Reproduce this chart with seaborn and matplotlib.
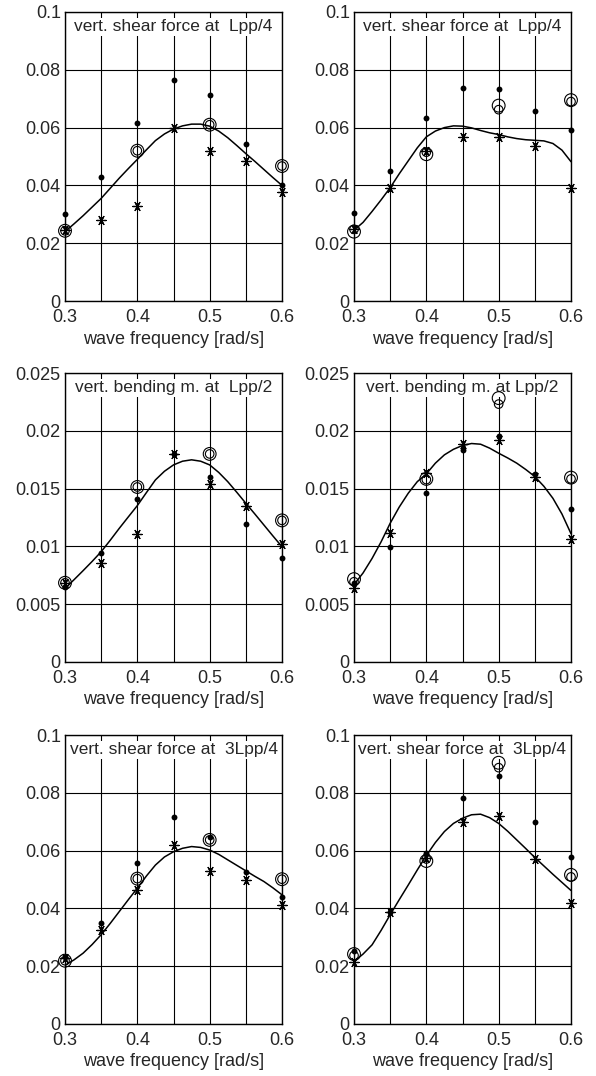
import matplotlib
matplotlib.use("Agg")
import matplotlib.pyplot as plt
import numpy as np
import seaborn as sns

# measured frequencies
freq = [0.30, 0.35, 0.40, 0.45, 0.50, 0.55, 0.60]
freq_c = [0.30, 0.40, 0.50, 0.60]
freq_line = [0.3000, 0.3125, 0.3250, 0.3375, 0.3500, 0.3625, 0.3750, 0.3875,
             0.4000, 0.4125, 0.4250, 0.4375, 0.4500, 0.4625, 0.4750, 0.4875,
             0.5000, 0.5125, 0.5250, 0.5375, 0.5500, 0.5625, 0.5750, 0.5875,
             0.6000]

titles = [
    "vert. shear force at  Lpp/4", "vert. shear force at  Lpp/4",
    "vert. bending m. at  Lpp/2", "vert. bending m. at Lpp/2",
    "vert. shear force at  3Lpp/4", "vert. shear force at  3Lpp/4",
]

# panel 1 (shear Lpp/4, left)
dots_1 = [0.0300, 0.0429, 0.0616, 0.0766, 0.0714, 0.0544, 0.0400]
stars_1 = [0.0245, 0.0280, 0.0330, 0.0597, 0.0520, 0.0485, 0.0377]
big_1 = [0.0243, 0.0520, 0.0610, 0.0467]
small_1 = [0.0243, 0.0520, 0.0610, 0.0467]
curve_1 = [0.0240, 0.0267, 0.0295, 0.0325, 0.0355, 0.0390, 0.0425, 0.0458,
           0.0490, 0.0523, 0.0555, 0.0578, 0.0595, 0.0606, 0.0612, 0.0612,
           0.0605, 0.0588, 0.0565, 0.0538, 0.0510, 0.0483, 0.0455, 0.0427,
           0.0400]

# panel 2 (shear Lpp/4, right)
dots_2 = [0.0303, 0.0450, 0.0634, 0.0736, 0.0735, 0.0657, 0.0591]
stars_2 = [0.0248, 0.0390, 0.0520, 0.0566, 0.0566, 0.0538, 0.0390]
big_2 = [0.0240, 0.0508, 0.0676, 0.0695]
small_2 = [0.0248, 0.0515, 0.0662, 0.0690]
curve_2 = [0.0245, 0.0272, 0.0310, 0.0350, 0.0392, 0.0440, 0.0485, 0.0530,
           0.0568, 0.0588, 0.0600, 0.0606, 0.0605, 0.0599, 0.0590, 0.0582,
           0.0576, 0.0568, 0.0562, 0.0558, 0.0556, 0.0554, 0.0545, 0.0522,
           0.0482]

# panel 3 (bending Lpp/2, left)
dots_3 = [0.00650, 0.00945, 0.01410, 0.01800, 0.01600, 0.01197, 0.00900]
stars_3 = [0.00685, 0.00853, 0.01104, 0.01800, 0.01538, 0.01353, 0.01020]
big_3 = [0.00685, 0.01514, 0.01800, 0.01225]
small_3 = [0.00685, 0.01514, 0.01800, 0.01225]
curve_3 = [0.00636, 0.00712, 0.00790, 0.00870, 0.00954, 0.01053, 0.01156,
           0.01255, 0.01353, 0.01465, 0.01575, 0.01650, 0.01705, 0.01737,
           0.01749, 0.01737, 0.01705, 0.01640, 0.01560, 0.01468, 0.01373,
           0.01280, 0.01185, 0.01090, 0.00997]

# panel 4 (bending Lpp/2, right)
dots_4 = [0.00680, 0.00997, 0.01460, 0.01835, 0.01957, 0.01627, 0.01321]
stars_4 = [0.00642, 0.01113, 0.01639, 0.01887, 0.01922, 0.01604, 0.01064]
big_4 = [0.00717, 0.01584, 0.02283, 0.01595]
small_4 = [0.00694, 0.01578, 0.02231, 0.01584]
curve_4 = [0.00670, 0.00770, 0.00896, 0.01040, 0.01200, 0.01340, 0.01460,
           0.01560, 0.01627, 0.01720, 0.01792, 0.01840, 0.01873, 0.01890,
           0.01884, 0.01850, 0.01806, 0.01765, 0.01720, 0.01665, 0.01604,
           0.01520, 0.01416, 0.01280, 0.01110]

# panel 5 (shear 3Lpp/4, left)
dots_5 = [0.0231, 0.0349, 0.0556, 0.0717, 0.0648, 0.0527, 0.0439]
stars_5 = [0.0228, 0.0326, 0.0465, 0.0620, 0.0530, 0.0499, 0.0412]
big_5 = [0.0219, 0.0503, 0.0637, 0.0501]
small_5 = [0.0219, 0.0503, 0.0637, 0.0501]
curve_5 = [0.0203, 0.0222, 0.0245, 0.0275, 0.0309, 0.0348, 0.0389, 0.0430,
           0.0470, 0.0512, 0.0550, 0.0578, 0.0596, 0.0608, 0.0614, 0.0611,
           0.0602, 0.0587, 0.0568, 0.0549, 0.0530, 0.0511, 0.0493, 0.0471,
           0.0447]

# panel 6 (shear 3Lpp/4, right)
dots_6 = [0.0253, 0.0387, 0.0593, 0.0783, 0.0858, 0.0700, 0.0577]
stars_6 = [0.0216, 0.0387, 0.0573, 0.0698, 0.0721, 0.0571, 0.0419]
big_6 = [0.0242, 0.0564, 0.0904, 0.0516]
small_6 = [0.0237, 0.0571, 0.0887, 0.0509]
curve_6 = [0.0216, 0.0242, 0.0274, 0.0324, 0.0378, 0.0430, 0.0481, 0.0533,
           0.0583, 0.0628, 0.0666, 0.0694, 0.0712, 0.0724, 0.0726, 0.0714,
           0.0694, 0.0667, 0.0637, 0.0607, 0.0576, 0.0547, 0.0518, 0.0490,
           0.0462]

panels = [
    (dots_1, stars_1, big_1, small_1, curve_1),
    (dots_2, stars_2, big_2, small_2, curve_2),
    (dots_3, stars_3, big_3, small_3, curve_3),
    (dots_4, stars_4, big_4, small_4, curve_4),
    (dots_5, stars_5, big_5, small_5, curve_5),
    (dots_6, stars_6, big_6, small_6, curve_6),
]
y_max = [0.1, 0.1, 0.025, 0.025, 0.1, 0.1]
y_step = [0.02, 0.02, 0.005, 0.005, 0.02, 0.02]

sns.set_style("whitegrid")
plt.rcParams["font.family"] = ["Liberation Sans", "DejaVu Sans"]
plt.rcParams["font.size"] = 13

fig = plt.figure(figsize=(5.96, 10.76), dpi=100)
lefts = [65 / 596, 354 / 596]
bottoms = [1 - 301 / 1076, 1 - 662 / 1076, 1 - 1024 / 1076]
w, h = 217 / 596, 289 / 1076

for i, (dots, stars, big, small, curve) in enumerate(panels):
    ax = fig.add_axes([lefts[i % 2], bottoms[i // 2], w, h])
    ax.set_facecolor("white")

    sns.lineplot(x=freq_line, y=curve, ax=ax, color="black", linewidth=1.1)
    sns.scatterplot(x=freq, y=dots, ax=ax, color="black", s=18, marker="o",
                    edgecolor="black", linewidth=0, zorder=4, clip_on=False)
    sns.scatterplot(x=freq, y=stars, ax=ax, color="black", s=45,
                    marker=(6, 2, 90), edgecolor="black", linewidth=0.9,
                    zorder=4, clip_on=False)
    ax.scatter(freq_c, big, s=85, marker="o", facecolors="none",
               edgecolors="black", linewidths=0.8, zorder=4, clip_on=False)
    ax.scatter(freq_c, small, s=38, marker="o", facecolors="none",
               edgecolors="black", linewidths=0.8, zorder=4, clip_on=False)

    ax.set_xlim(0.3, 0.6)
    ax.set_ylim(0, y_max[i])
    ax.set_xticks([0.3, 0.4, 0.5, 0.6])
    ax.set_xticklabels(["0.3", "0.4", "0.5", "0.6"])
    ax.set_xticks([0.35, 0.45, 0.55], minor=True)
    yt = np.arange(0, y_max[i] + y_step[i] / 2, y_step[i])
    ax.set_yticks(yt)
    ax.set_yticklabels(["0"] + [f"{v:g}" for v in yt[1:]])
    ax.grid(True, which="both", color="black", linewidth=0.8)
    ax.tick_params(which="both", length=0, labelsize=13)
    ax.tick_params(axis="x", pad=6)
    ax.tick_params(axis="y", pad=3)
    for sp in ax.spines.values():
        sp.set_color("black")
        sp.set_linewidth(1.0)
        sp.set_zorder(6)
    ax.set_xlabel("wave frequency [rad/s]", fontsize=13, labelpad=3)
    ax.set_ylabel("")
    ax.text(0.5, 0.975, titles[i], transform=ax.transAxes, ha="center",
            va="top", fontsize=12.5,
            bbox=dict(facecolor="white", edgecolor="none", pad=1.0),
            zorder=3.5)

fig.savefig("out.png", dpi=100)
